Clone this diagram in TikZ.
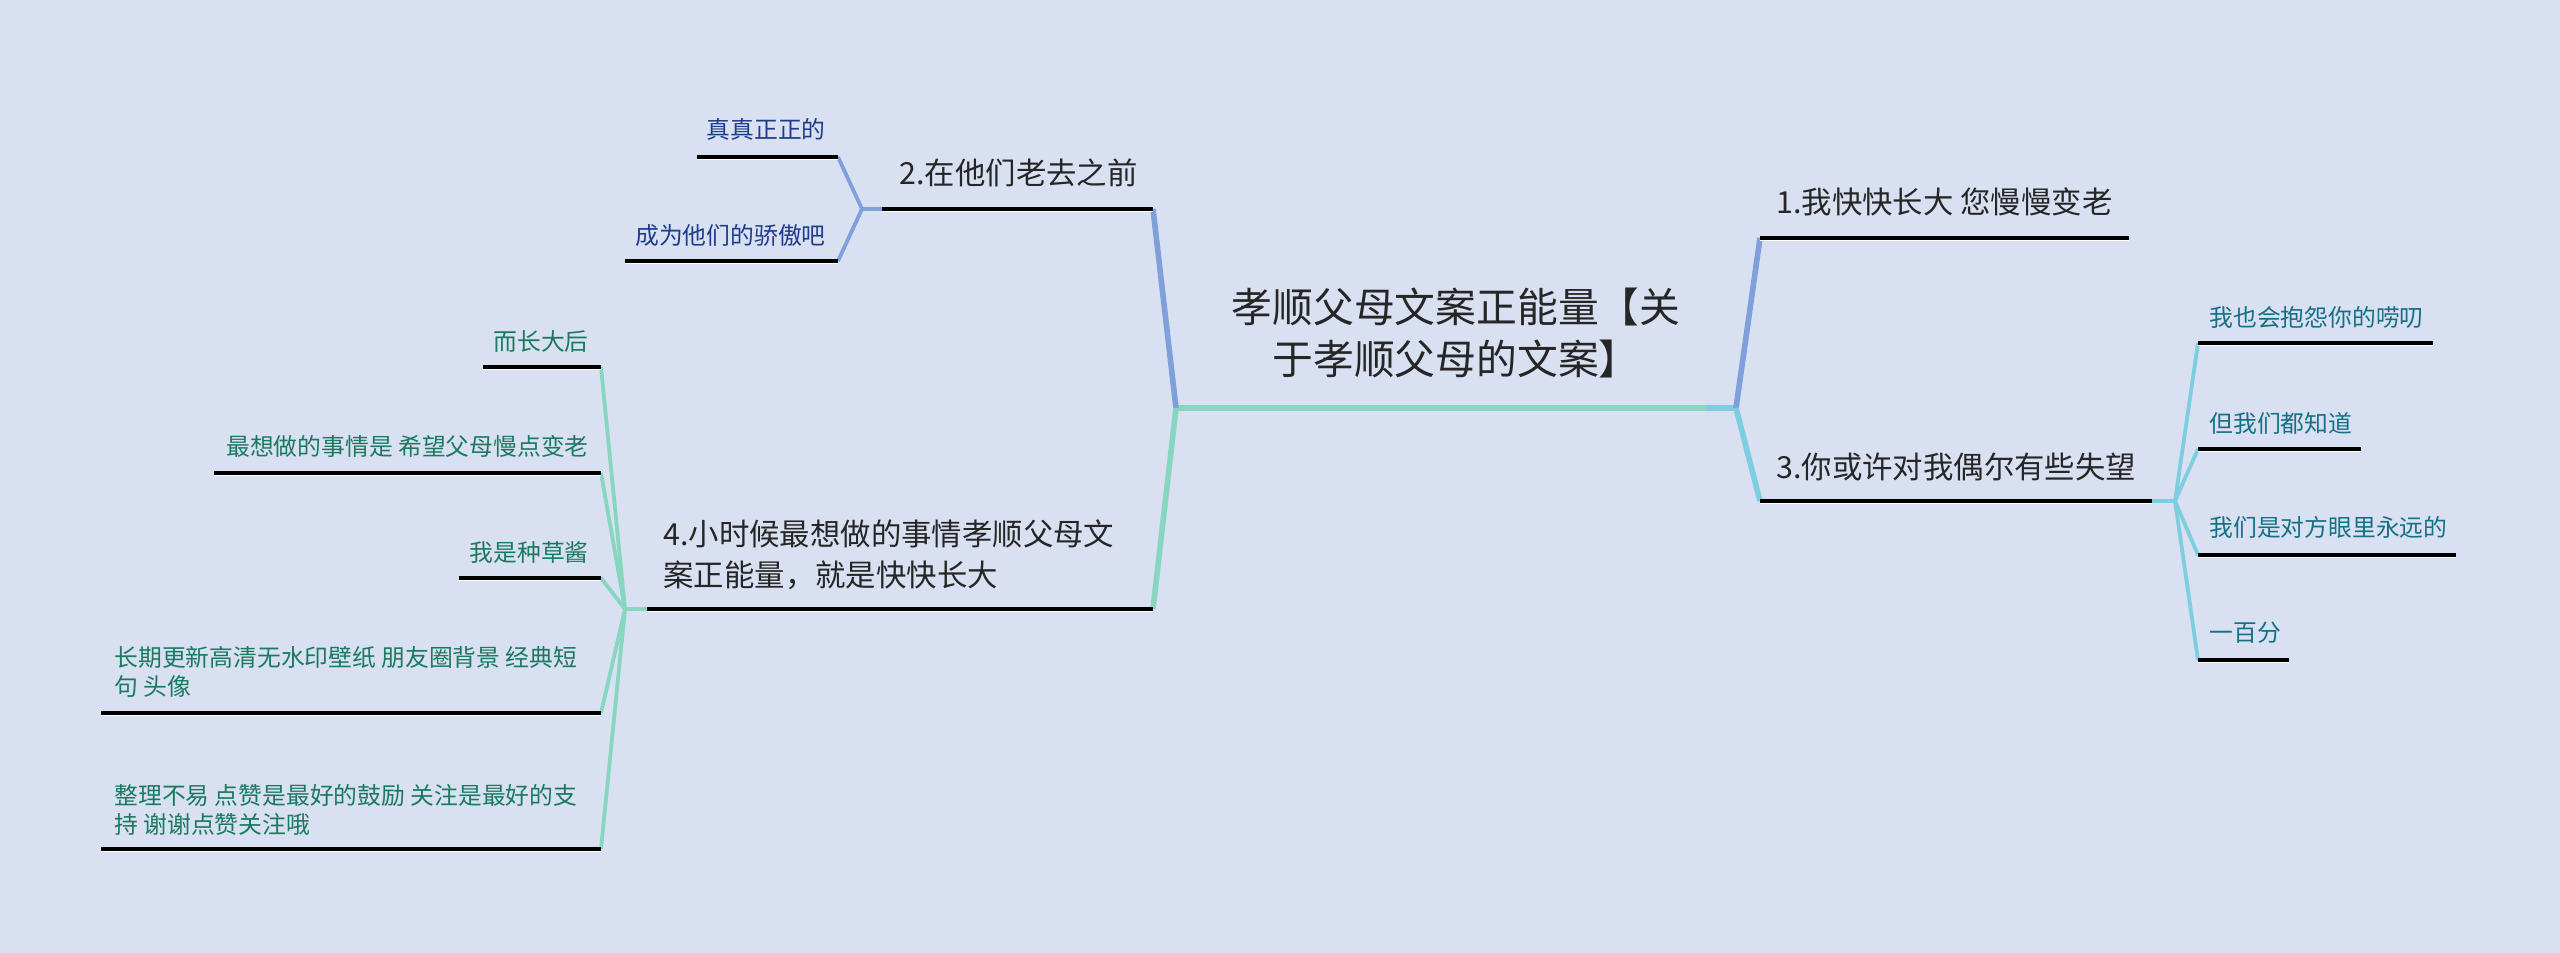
\documentclass[tikz,border=0pt]{standalone}
\usepackage{fontspec}
\setmainfont{Noto Sans CJK SC}
\definecolor{bg}{RGB}{217,224,242}
\definecolor{cblue}{RGB}{127,160,219}
\definecolor{ccyan}{RGB}{126,206,224}
\definecolor{cgreen}{RGB}{136,214,192}
\definecolor{tdark}{RGB}{38,38,38}
\definecolor{tblue}{RGB}{30,60,140}
\definecolor{tteal}{RGB}{20,112,132}
\definecolor{tgreen}{RGB}{25,122,96}
\begin{document}
\begin{tikzpicture}[x=0.5pt,y=-0.5pt,
  roottext/.style={font=\fontsize{20.4pt}{26pt}\selectfont, text=tdark, align=center, inner sep=0pt},
  branchtext/.style={font=\fontsize{15.2pt}{20.5pt}\selectfont, text=tdark, align=left, inner sep=0pt},
  leaftext/.style={font=\fontsize{11.9pt}{14.7pt}\selectfont, align=left, inner sep=0pt},
  mainconn/.style={line width=2.8pt},
  subconn/.style={line width=1.9pt},
  uline/.style={line width=1.9pt, black},
  hl/.style={line width=0.5pt, white}
]
\fill[bg] (0,0) rectangle (2560,953);
\useasboundingbox (0,0) rectangle (2560,953);

% root
\node[roottext] (root) at (1456,333) {孝顺父母文案正能量【关\\于孝顺父母的文案】};
\coordinate (L) at (1176,408);
\coordinate (R) at (1736,408);
\coordinate (Rc) at (1706,408);
\draw[cgreen, mainconn] (L) -- (R);
\draw[ccyan, mainconn] (Rc) -- (R);

% branch coordinates
\coordinate (b1l) at (1760,238); \coordinate (b1r) at (2129,238);
\coordinate (b3l) at (1760,501); \coordinate (b3r) at (2152,501);
\coordinate (b2l) at (882,209);  \coordinate (b2r) at (1153,209);
\coordinate (b4l) at (647,609);  \coordinate (b4r) at (1153,609);

\draw[cblue, mainconn] (R) -- (b1l);
\draw[ccyan, mainconn] (R) -- (b3l);
\draw[cblue, mainconn] (L) -- (b2r);
\draw[cgreen, mainconn] (L) -- (b4r);

\node[branchtext, anchor=west] (b1) at (1776,202) {1.我快快长大 您慢慢变老};
\node[branchtext, anchor=west] (b3) at (1776,467) {3.你或许对我偶尔有些失望};
\node[branchtext, anchor=east] (b2) at (1138,173) {2.在他们老去之前};
\node[branchtext, anchor=west] (b4) at (663,555) {4.小时候最想做的事情孝顺父母文\\案正能量，就是快快长大};

% junctions
\coordinate (j3) at (2175,501);
\coordinate (j2) at (862,209);
\coordinate (j4) at (625,609);
\draw[ccyan, subconn] (b3r) -- (j3);
\draw[cblue, subconn] (b2l) -- (j2);
\draw[cgreen, subconn] (b4l) -- (j4);

% leaves of 3
\coordinate (c31l) at (2198,343); \coordinate (c31r) at (2433,343);
\coordinate (c32l) at (2198,449); \coordinate (c32r) at (2361,449);
\coordinate (c33l) at (2198,555); \coordinate (c33r) at (2456,555);
\coordinate (c34l) at (2198,660); \coordinate (c34r) at (2289,660);
\foreach \c in {c31l,c32l,c33l,c34l} \draw[ccyan, subconn] (j3) -- (\c);
\node[leaftext, text=tteal, anchor=west] (c31) at (2209,317) {我也会抱怨你的唠叨};
\node[leaftext, text=tteal, anchor=west] (c32) at (2209,423) {但我们都知道};
\node[leaftext, text=tteal, anchor=west] (c33) at (2209,527) {我们是对方眼里永远的};
\node[leaftext, text=tteal, anchor=west] (c34) at (2209,633) {一百分};

% leaves of 2
\coordinate (c21l) at (697,157); \coordinate (c21r) at (838,157);
\coordinate (c22l) at (625,261); \coordinate (c22r) at (838,261);
\foreach \c in {c21r,c22r} \draw[cblue, subconn] (j2) -- (\c);
\node[leaftext, text=tblue, anchor=east] (c21) at (826,129) {真真正正的};
\node[leaftext, text=tblue, anchor=east] (c22) at (826,235) {成为他们的骄傲吧};

% leaves of 4
\coordinate (c41l) at (483,367); \coordinate (c41r) at (601,367);
\coordinate (c42l) at (214,473); \coordinate (c42r) at (601,473);
\coordinate (c43l) at (459,578); \coordinate (c43r) at (601,578);
\coordinate (c44l) at (101,713); \coordinate (c44r) at (601,713);
\coordinate (c45l) at (101,849); \coordinate (c45r) at (601,849);
\foreach \c in {c41r,c42r,c43r,c44r,c45r} \draw[cgreen, subconn] (j4) -- (\c);
\node[leaftext, text=tgreen, anchor=east] (c41) at (589,341) {而长大后};
\node[leaftext, text=tgreen, anchor=east] (c42) at (589,446) {最想做的事情是 希望父母慢点变老};
\node[leaftext, text=tgreen, anchor=east] (c43) at (589,552) {我是种草酱};
\node[leaftext, text=tgreen, anchor=west] (c44) at (114,672) {长期更新高清无水印壁纸 朋友圈背景 经典短\\句 头像};
\node[leaftext, text=tgreen, anchor=west] (c45) at (114,810) {整理不易 点赞是最好的鼓励 关注是最好的支\\持 谢谢点赞关注哦};

% underlines
\foreach \a/\b in {b1l/b1r,b3l/b3r,b2l/b2r,b4l/b4r,c31l/c31r,c32l/c32r,c33l/c33r,c34l/c34r,c21l/c21r,c22l/c22r,c41l/c41r,c42l/c42r,c43l/c43r,c44l/c44r,c45l/c45r}{
  \draw[hl] ([yshift=-1.3pt]\a) -- ([yshift=-1.3pt]\b);
  \draw[uline] (\a) -- (\b);
}
\end{tikzpicture}
\end{document}
